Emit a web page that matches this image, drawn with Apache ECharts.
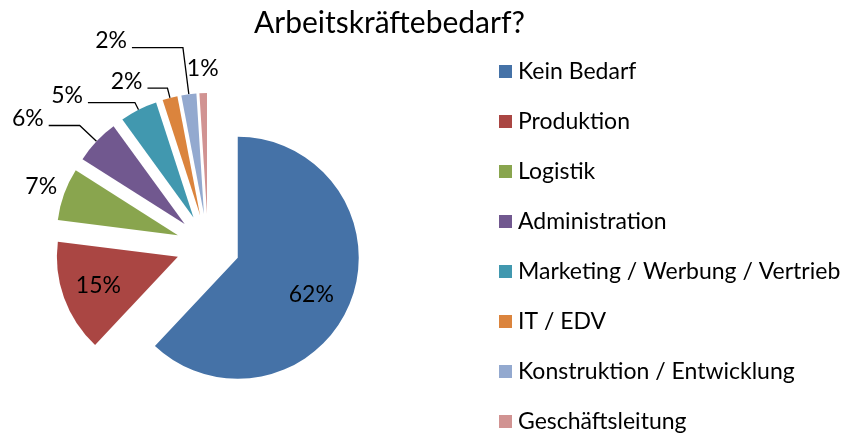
<!DOCTYPE html>
<html><head><meta charset="utf-8">
<script src="https://cdn.jsdelivr.net/npm/echarts@6/dist/echarts.min.js"></script>
<style>html,body{margin:0;padding:0;background:#fff}#c{width:841px;height:434px}</style>
</head><body><div id="c"></div>
<script>
const titleText = 'Arbeitskräftebedarf?';
const categories = ['Kein Bedarf', 'Produktion', 'Logistik', 'Administration', 'Marketing / Werbung / Vertrieb', 'IT / EDV', 'Konstruktion / Entwicklung', 'Geschäftsleitung'];
const values = [62, 15, 7, 6, 5, 2, 2, 1];

// styling (not data)
const colors = ['#4572A7', '#AA4643', '#89A54E', '#71588F', '#4198AF', '#DB843D', '#93A9CF', '#D19392'];
const insideLabel = [true, true, false, false, false, false, false, false];
const showLine = [false, false, false, true, true, true, true, false];
const lineLen1 = [0, 0, 1, 23, 8, 10, 47, 18];
const lineLen2 = [0, 0, 1, 31, 47, 20, 51, -21];
const FONT = 'Lato';

const total = values.reduce((a, b) => a + b, 0);
const midAngles = [];
let acc = 0;
values.forEach(v => { midAngles.push((acc + v / 2) / total * 2 * Math.PI); acc += v; });

const chart = echarts.init(document.getElementById('c'), null, {renderer: 'canvas'});
const data = categories.map((name, i) => ({
  name, value: values[i], selected: true,
  label: {position: insideLabel[i] ? 'inside' : 'outside'},
  labelLine: {show: showLine[i], length: lineLen1[i], length2: lineLen2[i]}
}));
chart.setOption({
  animation: false,
  color: colors,
  title: {text: titleText, left: 249, top: 3, textStyle: {fontFamily: FONT, fontWeight: 'normal', fontSize: 30, color: '#000'}},
  legend: {
    orient: 'vertical', left: 499, top: 60, height: 380, padding: 0, itemWidth: 13, itemHeight: 13, itemGap: 27,
    icon: 'rect', selectedMode: false,
    textStyle: {fontFamily: FONT, fontSize: 23, color: '#000', padding: [0, 0, 0, 1]}
  },
  series: [{
    type: 'pie', center: [208, 246], radius: 121, startAngle: 90, clockwise: true,
    selectedMode: 'multiple', selectedOffset: 32,
    avoidLabelOverlap: false,
    itemStyle: {borderWidth: 0},
    emphasis: {disabled: true},
    label: {formatter: p => Math.round(p.percent) + '%', fontFamily: FONT, fontSize: 23, color: '#000'},
    labelLine: {lineStyle: {color: '#000', width: 1.3}},
    labelLayout: p => {
      const i = p.dataIndex;
      if (!insideLabel[i]) return {dy: -7};
      const a = midAngles[i], s = 21;
      return {dx: Math.sin(a) * s - (i === 0 ? 5 : 0), dy: -Math.cos(a) * s + (i === 0 ? 6 : 0)};
    },
    data
  }]
});
</script></body></html>
